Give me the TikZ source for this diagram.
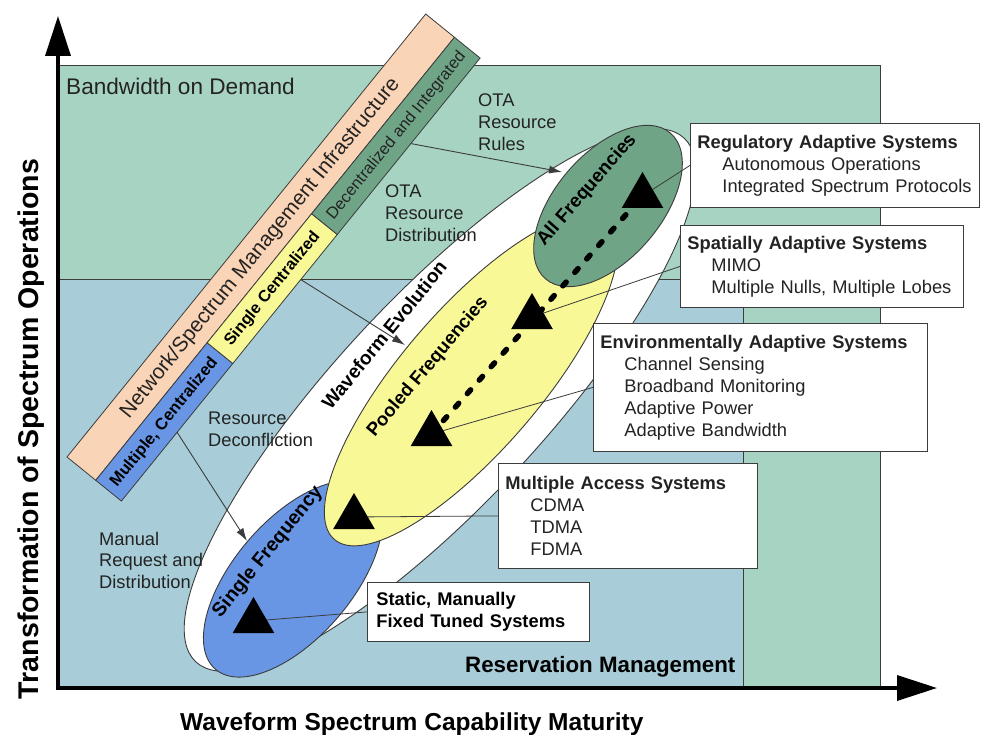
\documentclass[tikz,border=0pt]{standalone}
\usepackage{fontspec}
\setmainfont{Liberation Sans}
\usetikzlibrary{shapes.geometric,arrows.meta}
\definecolor{bggreen}{RGB}{167,211,195}
\definecolor{bgblue}{RGB}{168,205,216}
\definecolor{peachc}{RGB}{250,212,182}
\definecolor{stripblue}{RGB}{104,150,228}
\definecolor{yellowc}{RGB}{248,248,150}
\definecolor{greenc}{RGB}{112,164,134}
\definecolor{linec}{RGB}{60,60,60}
\definecolor{textc}{RGB}{35,35,35}
\begin{document}
\begin{tikzpicture}[x=1pt,y=-1pt,
  gridline/.style={draw=linec, line width=0.8},
  bandbox/.style={draw=linec, line width=0.8},
  ellnode/.style={ellipse, draw=linec, line width=0.9, inner sep=0, outer sep=0},
  tri/.style={regular polygon, regular polygon sides=3, fill=black, inner sep=0, minimum size=48},
  conn/.style={draw=linec, line width=0.8},
  arr/.style={draw=linec, line width=0.9, -{Latex[length=13pt,width=8pt]}},
  dashline/.style={draw=black, line width=5.5, dash pattern=on 5pt off 13pt, line cap=round},
  cbox/.style={draw=linec, fill=white, line width=0.8, inner ysep=0, inner xsep=7, align=left, anchor=north west, text=textc, font=\fontsize{18.3}{22}\selectfont},
  lbl/.style={text=textc, inner sep=0, align=left, font=\fontsize{18.3}{21.8}\selectfont},
  elltext/.style={text=black, inner sep=0, font=\bfseries\fontsize{19}{22}\selectfont},
  axis/.style={draw=black, line width=3.5}
]
\useasboundingbox (0,0) rectangle (981,735);

% background regions
\fill[bggreen] (58,65) rectangle (880,688);
\fill[bgblue] (58,279) rectangle (743,688);
\draw[gridline] (58,65) -- (880,65) -- (880,688);
\draw[gridline] (58,279) -- (880,279);
\draw[gridline] (743,279) -- (743,688);

% infrastructure band
\begin{scope}[shift={(67,457)}, rotate=51, transform shape]
  \filldraw[bandbox, fill=peachc] (0,0) rectangle (570,37);
  \filldraw[bandbox, fill=stripblue] (0,37) rectangle (177,70);
  \filldraw[bandbox, fill=yellowc] (177,37) rectangle (343,70);
  \filldraw[bandbox, fill=greenc] (343,37) rectangle (570,70);
  \node[text=textc, inner sep=0, font=\fontsize{21}{24}\selectfont] (netlbl) at (284,19) {Network/Spectrum Management Infrastructure};
  \node[text=black, inner sep=0, font=\bfseries\fontsize{16.5}{19}\selectfont] (mclbl) at (88,54) {Multiple, Centralized};
  \node[text=black, inner sep=0, font=\bfseries\fontsize{16.3}{19}\selectfont] (sclbl) at (260,54) {Single Centralized};
  \node[text=textc, inner sep=0, font=\fontsize{16.4}{19}\selectfont] (dilbl) at (457,54) {Decentralized and Integrated};
  \coordinate (mcOut) at (88.5,70);
  \coordinate (scOut) at (285,70);
  \coordinate (diOut) at (460,70);
\end{scope}

% ellipses
\node[ellnode, fill=white, minimum width=716, minimum height=208, rotate=47] (wev) at (440,400) {};
\node[ellnode, fill=stripblue, minimum width=238, minimum height=118, rotate=49.3] (sf) at (293,579) {};
\node[ellnode, fill=yellowc, minimum width=420, minimum height=140, rotate=49.4] (pf) at (471,380) {};
\node[ellnode, fill=greenc, minimum width=192, minimum height=106, rotate=49.4] (af) at (608,206) {};

\node[elltext, rotate=50.7, font=\bfseries\fontsize{19.2}{22}\selectfont] (wevlbl) at (384,335) {Waveform Evolution};
\node[elltext, rotate=50, font=\bfseries\fontsize{18.6}{22}\selectfont] (pflbl) at (428,367) {Pooled Frequencies};
\node[elltext, rotate=49, font=\bfseries\fontsize{18.9}{22}\selectfont] (aflbl) at (587,190) {All Frequencies};
\node[elltext, rotate=51, font=\bfseries\fontsize{19.5}{22}\selectfont] (sflbl) at (268,552) {Single Frequency};

% callout boxes
\node[cbox, text width=275, minimum height=84] (reg) at (690,123)
  {\textbf{Regulatory Adaptive Systems}\\\hspace*{25pt}Autonomous Operations\\\hspace*{25pt}Integrated Spectrum Protocols};
\node[cbox, text width=269, minimum height=82] (spa) at (680,225)
  {\textbf{Spatially Adaptive Systems}\\\hspace*{24pt}MIMO\\\hspace*{24pt}Multiple Nulls, Multiple Lobes};
\node[cbox, text width=320, minimum height=128] (env) at (593,323)
  {\textbf{Environmentally Adaptive Systems}\\\hspace*{24pt}Channel Sensing\\\hspace*{24pt}Broadband Monitoring\\\hspace*{24pt}Adaptive Power\\\hspace*{24pt}Adaptive Bandwidth};
\node[cbox, text width=245, minimum height=105] (mas) at (498,463)
  {\textbf{Multiple Access Systems}\\\hspace*{25pt}CDMA\\\hspace*{25pt}TDMA\\\hspace*{25pt}FDMA};
\node[cbox, inner xsep=9, text width=204, minimum height=59, font=\bfseries\fontsize{18.3}{22}\selectfont, text=black] (sta) at (367,582)
  {Static, Manually\\Fixed Tuned Systems};

% triangle positions
\coordinate (t1c) at (642.5,196);
\coordinate (t2c) at (532,317);
\coordinate (t3c) at (431.5,434);
\coordinate (t4c) at (354,517);
\coordinate (t5c) at (253.5,621);

% evolution path
\draw[dashline] (t3c) -- (t1c);

% connectors from boxes
\draw[conn] (reg.west) -- (t1c);
\draw[conn] (spa.west) -- (t2c);
\draw[conn] (env.west) -- (t3c);
\draw[conn] (mas.west) -- (t4c);
\draw[conn] (sta.west) -- (t5c);

% arrows from infrastructure band
\coordinate (afIn) at (562,172);
\coordinate (pfIn) at (405,345);
\coordinate (sfIn) at (247,541);
\draw[arr] (diOut) -- (afIn);
\draw[arr] (scOut) -- (pfIn);
\draw[arr] (mcOut) -- (sfIn);

% triangles
\node[tri] (t1) at (t1c) {};
\node[tri] (t2) at (t2c) {};
\node[tri] (t3) at (t3c) {};
\node[tri] (t4) at (t4c) {};
\node[tri] (t5) at (t5c) {};

% free labels
\node[lbl, anchor=base west, font=\fontsize{22.6}{26}\selectfont] (bod) at (66,95) {Bandwidth on Demand};
\node[lbl, anchor=north west] (otarules) at (478,93.6) {OTA\\Resource\\Rules};
\node[lbl, anchor=north west] (otadist) at (385,185) {OTA\\Resource\\Distribution};
\node[lbl, anchor=north west] (resdec) at (208,411.6) {Resource\\Deconfliction};
\node[lbl, anchor=north west] (manreq) at (99,531.6) {Manual\\Request and\\Distribution};
\node[anchor=base west, inner sep=0, text=black, font=\bfseries\fontsize{22.3}{26}\selectfont] (resman) at (465,672.7) {Reservation Management};

% axes
\coordinate (org) at (58,688);
\coordinate (xtip) at (937,688);
\coordinate (ytip) at (58,16);
\draw[axis, {Triangle[length=40pt,width=25pt]}-{Triangle[length=40pt,width=25pt]}] (xtip) -- (org) -- (ytip);

\node[anchor=base west, inner sep=0, text=black, font=\bfseries\fontsize{24.5}{28}\selectfont] (xlbl) at (180,730) {Waveform Spectrum Capability Maturity};
\node[rotate=90, inner sep=0, text=black, font=\bfseries\fontsize{28.5}{32}\selectfont] (ylbl) at (31,429) {Transformation of Spectrum Operations};
\end{tikzpicture}
\end{document}
